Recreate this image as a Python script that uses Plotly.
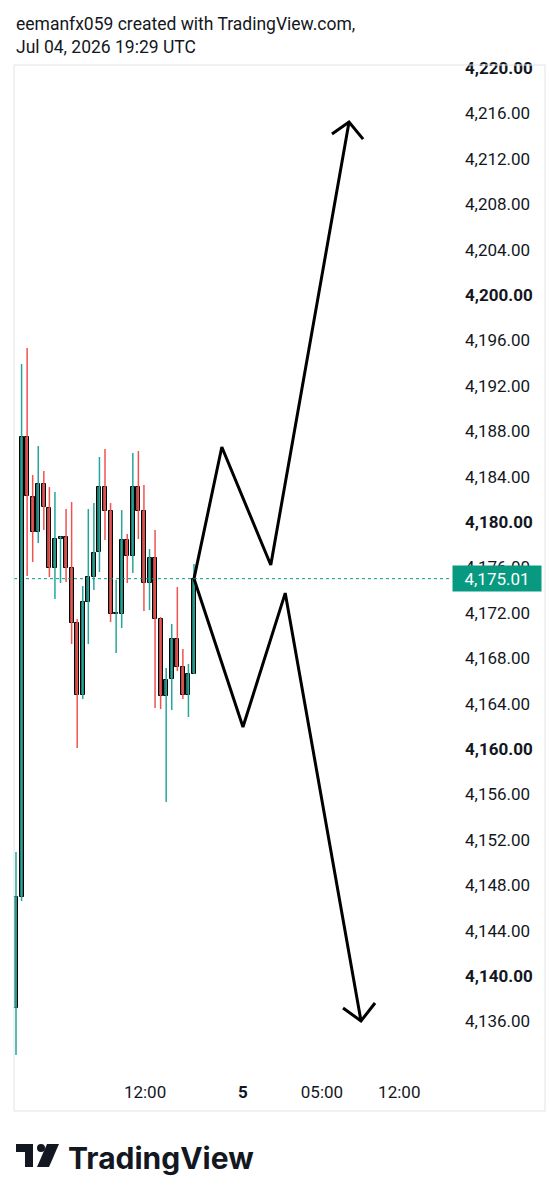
import plotly.graph_objects as go

# ---------------- data ----------------
opens  = [4137.18, 4147.00, 4187.49, 4182.20, 4179.12, 4183.35, 4181.23, 4175.95, 4178.50, 4178.68,
          4175.95, 4171.10, 4164.76, 4172.95, 4175.15, 4177.36, 4183.08, 4180.97, 4171.89, 4171.89,
          4178.41, 4177.00, 4183.08, 4180.97, 4174.63, 4176.83, 4171.45, 4164.67, 4166.17, 4169.69,
          4167.22, 4164.76, 4166.61]
highs  = [4150.93, 4193.92, 4195.33, 4184.14, 4186.70, 4184.49, 4183.08, 4182.64, 4178.75, 4181.15,
          4181.76, 4171.45, 4174.36, 4181.15, 4181.67, 4185.73, 4186.43, 4181.67, 4174.89, 4181.06,
          4178.94, 4186.08, 4186.26, 4183.26, 4177.62, 4179.30, 4171.63, 4167.14, 4171.01, 4174.27,
          4168.81, 4167.49, 4176.30]
lows   = [4133.04, 4146.60, 4175.24, 4176.48, 4178.15, 4179.30, 4175.15, 4173.22, 4174.63, 4174.71,
          4169.25, 4160.09, 4164.41, 4169.25, 4174.01, 4175.59, 4178.41, 4171.19, 4168.46, 4170.66,
          4174.63, 4175.51, 4178.50, 4172.16, 4172.25, 4163.61, 4163.52, 4155.33, 4163.44, 4166.87,
          4164.41, 4162.82, 4166.61]
closes = [4146.96, 4187.49, 4182.29, 4179.12, 4183.35, 4181.32, 4175.95, 4178.50, 4178.68, 4175.95,
          4171.10, 4164.76, 4172.95, 4175.15, 4177.27, 4183.08, 4180.97, 4171.89, 4171.95, 4178.41,
          4177.00, 4183.08, 4180.97, 4174.63, 4176.83, 4171.45, 4164.67, 4166.08, 4169.69, 4167.22,
          4164.76, 4166.61, 4175.01]
bar_index = list(range(len(opens)))

last_price_text = "4,175.01"

time_tick_pos  = [23.2, 40.8, 55.0, 68.9]
time_tick_text = ["12:00", "<b>5</b>", "05:00", "12:00"]

price_ticks = list(range(4136, 4221, 4))

# hand-drawn projection (bar index, price)
up_path_x   = [37.0, 45.8, 59.87]
up_path_y   = [4186.61, 4176.21, 4215.24]
down_path_x = [40.8, 48.4, 62.02]
down_path_y = [4161.94, 4173.74, 4136.04]
up_head_x   = [56.8, 59.87, 62.4]
up_head_y   = [4214.19, 4215.24, 4213.74]
down_head_x = [58.79, 62.02, 64.54]
down_head_y = [4137.18, 4136.04, 4137.62]

header_lines = ["eemanfx059 created with TradingView.com,", "Jul 04, 2026 19:29 UTC"]

# ---------------- layout geometry ----------------
W, H = 560, 1200
L, R, T, B = 14, 108, 66, 130
PW, PH = W - L - R, H - T - B


def px(x):
    return (x - L) / PW


def py(y):
    return 1 - (y - T) / PH


UP_WICK, DN_WICK = "#26a69a", "#ef5350"
UP_BODY, DN_BODY = "#1f6f63", "#a94848"
FONT = "Roboto"
TXT = "#131722"

fig = go.Figure()

# wicks
for up in (True, False):
    wx, wy = [], []
    for i, o, h, l, c in zip(bar_index, opens, highs, lows, closes):
        if (c >= o) == up:
            wx += [i, i, None]
            wy += [l, h, None]
    fig.add_trace(go.Scatter(x=wx, y=wy, mode="lines",
                             line=dict(color=UP_WICK if up else DN_WICK, width=1.5),
                             hoverinfo="skip", showlegend=False))

# bodies
body_base = [min(o, c) for o, c in zip(opens, closes)]
body_len = [max(abs(c - o), 0.12) for o, c in zip(opens, closes)]
body_col = [UP_BODY if c >= o else DN_BODY for o, c in zip(opens, closes)]
fig.add_trace(go.Bar(x=bar_index, y=body_len, base=body_base, width=0.72,
                     marker=dict(color=body_col, line=dict(color="#000000", width=1)),
                     hoverinfo="skip", showlegend=False))

# projection drawing
last_x, last_c = bar_index[-1], closes[-1]
for xs, ys in ((up_path_x, up_path_y), (down_path_x, down_path_y)):
    fig.add_trace(go.Scatter(x=[last_x] + xs, y=[last_c] + ys, mode="lines",
                             line=dict(color="#000000", width=3),
                             hoverinfo="skip", showlegend=False))
for xs, ys in ((up_head_x, up_head_y), (down_head_x, down_head_y)):
    fig.add_trace(go.Scatter(x=xs, y=ys, mode="lines",
                             line=dict(color="#000000", width=3),
                             hoverinfo="skip", showlegend=False))

shapes = []
# last price dotted line
shapes.append(dict(type="line", xref="paper", yref="y", x0=0, x1=1, y0=last_c, y1=last_c,
                   line=dict(color="#089981", width=1, dash="dot")))
# frame
shapes.append(dict(type="rect", xref="paper", yref="paper", x0=px(14), x1=px(545),
                   y0=py(1111), y1=py(65), line=dict(color="#e0e3eb", width=1)))


# TradingView icon
def path(pts):
    return "M" + " L".join(f"{px(a):.5f},{py(b):.5f}" for a, b in pts) + " Z"


shapes.append(dict(type="path", xref="paper", yref="paper",
                   path=path([(16, 1144), (33, 1144), (33, 1167), (25, 1167), (25, 1152), (16, 1152)]),
                   fillcolor="#131722", line=dict(width=0)))
shapes.append(dict(type="circle", xref="paper", yref="paper",
                   x0=px(37), x1=px(45), y0=py(1152), y1=py(1144),
                   fillcolor="#131722", line=dict(width=0)))
shapes.append(dict(type="path", xref="paper", yref="paper",
                   path=path([(47, 1144), (59, 1144), (49, 1167), (37, 1167)]),
                   fillcolor="#131722", line=dict(width=0)))

annotations = [
    dict(xref="paper", yref="paper", x=px(14), y=py(24), xanchor="left", yanchor="middle",
         text=header_lines[0], showarrow=False, font=dict(family=FONT, size=17.5, color=TXT)),
    dict(xref="paper", yref="paper", x=px(14), y=py(47), xanchor="left", yanchor="middle",
         text=header_lines[1], showarrow=False, font=dict(family=FONT, size=17.5, color=TXT)),
    dict(xref="paper", yref="y", x=1, y=last_c, xanchor="left", yanchor="middle",
         text=last_price_text, showarrow=False, bgcolor="#089981", width=86, height=23,
         font=dict(family=FONT, size=17, color="#ffffff")),
    dict(xref="paper", yref="paper", x=px(66), y=py(1158), xanchor="left", yanchor="middle",
         text="<b>TradingView</b>", showarrow=False,
         font=dict(family="Inter", size=30, color="#131722")),
]

fig.update_layout(
    width=W, height=H,
    margin=dict(l=L, r=R, t=T, b=B),
    paper_bgcolor="#ffffff", plot_bgcolor="#ffffff",
    showlegend=False, bargap=0,
    shapes=shapes, annotations=annotations,
    xaxis=dict(range=[-0.36, 78.38], showgrid=False, zeroline=False, showline=False,
               tickmode="array", tickvals=time_tick_pos, ticktext=time_tick_text,
               ticks="", ticklabelstandoff=10, tickfont=dict(family=FONT, size=17, color=TXT),
               fixedrange=True),
    yaxis=dict(range=[4131.72, 4220.18], side="right", showgrid=False, zeroline=False,
               showline=False, tickmode="array", tickvals=price_ticks,
               ticktext=[(f"<b>{v:,.2f}</b>" if v % 20 == 0 else f"{v:,.2f}") for v in price_ticks],
               ticks="", ticklabelstandoff=12, tickfont=dict(family=FONT, size=17, color=TXT),
               fixedrange=True),
)

fig.write_html("out.html")
